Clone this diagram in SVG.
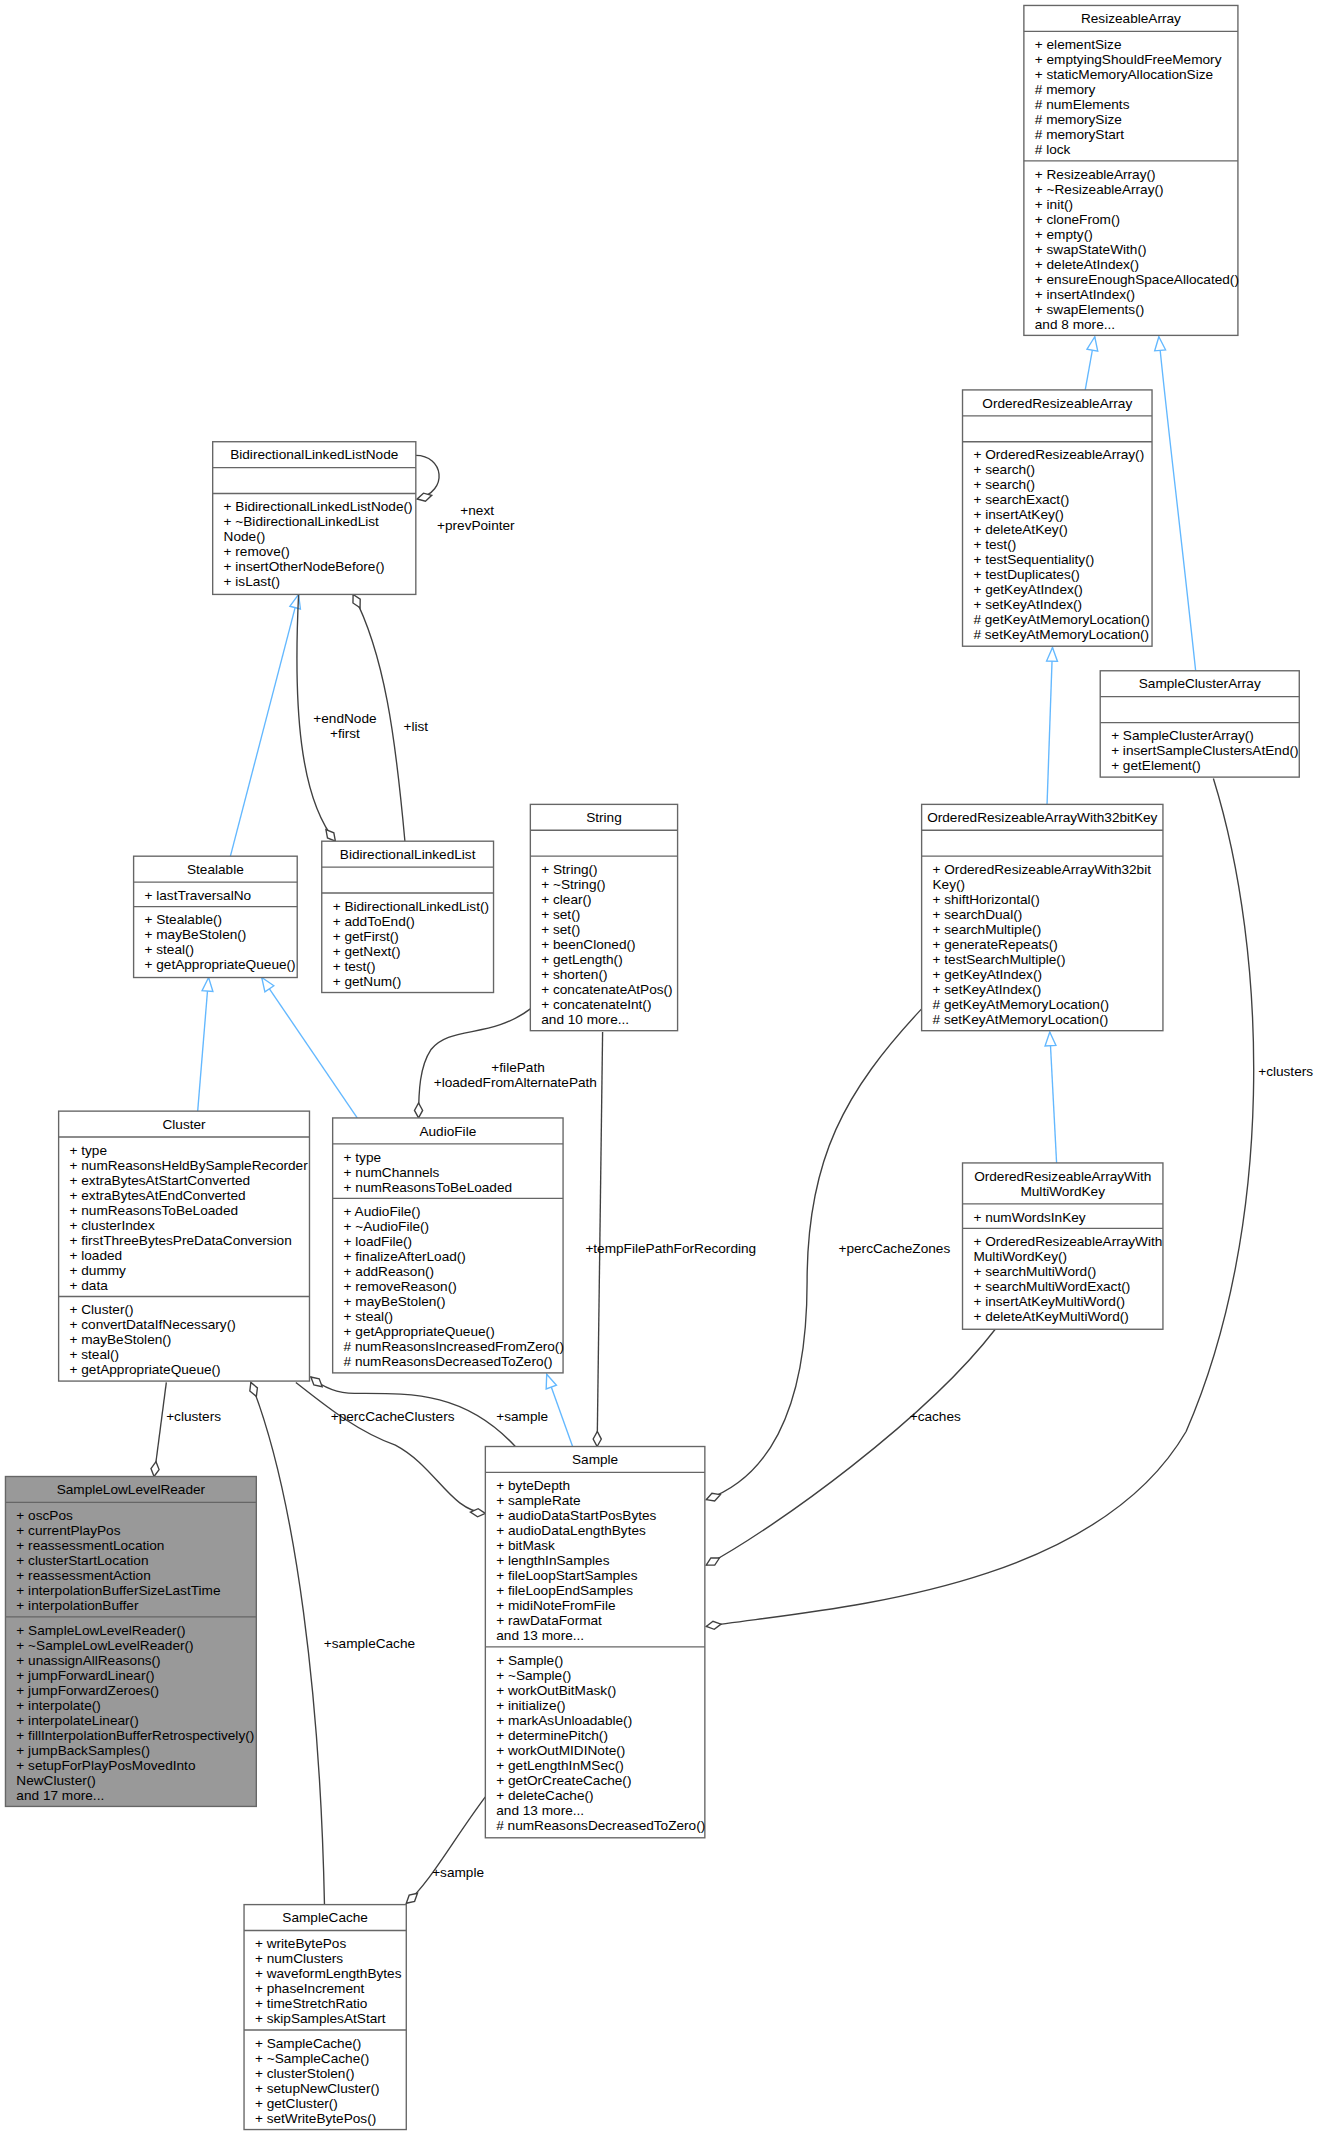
<svg xmlns="http://www.w3.org/2000/svg" width="1317" height="2135" viewBox="0 0 1317 2135">
<style>
text{font-family:"Liberation Sans",Arial,sans-serif;font-size:10px;fill:#000}
.t{text-anchor:middle}
.box{fill:#fff;stroke:#666;stroke-width:1}
.dv{stroke:#666;stroke-width:1}
.inh{fill:none;stroke:#63b8ff;stroke-width:1}
.agg{fill:none;stroke:#404040;stroke-width:1}
</style>
<defs>
<marker id="tri" viewBox="-11 -5 12 10" refX="0" refY="0" markerWidth="12" markerHeight="10" markerUnits="userSpaceOnUse" orient="auto"><path d="M0,0 L-10,-4 L-10,4 z" fill="#fff" stroke="#63b8ff"/></marker>
<marker id="dia" viewBox="-12 -4 13 8" refX="0" refY="0" markerWidth="13" markerHeight="8" markerUnits="userSpaceOnUse" orient="auto"><path d="M0,0 L-5.5,-3 L-11,0 L-5.5,3 z" fill="#fff" stroke="#404040"/></marker>
</defs>
<rect width="1317" height="2135" fill="#fff"/>
<g transform="scale(1.36335)">
<g id="connectors">
<path class="inh" d="M796,286 L803,247" marker-end="url(#tri)"/>
<path class="inh" d="M877,492 C865,380 855,300 850,247" marker-end="url(#tri)"/>
<path class="inh" d="M768,590 L772,475" marker-end="url(#tri)"/>
<path class="inh" d="M775,853 L770,757" marker-end="url(#tri)"/>
<path class="inh" d="M169,628 L219,436" marker-end="url(#tri)"/>
<path class="inh" d="M145,815 L153,717" marker-end="url(#tri)"/>
<path class="inh" d="M262,820 L192,717" marker-end="url(#tri)"/>
<path class="inh" d="M420,1061 L401,1008" marker-end="url(#tri)"/>
<path class="agg" d="M305,334 C325,334 330,360 306,366" marker-end="url(#dia)"/>
<path class="agg" d="M219,436 C215,520 220,585 246,617" marker-end="url(#dia)"/>
<path class="agg" d="M297,617 C290,540 282,480 259,436" marker-end="url(#dia)"/>
<path class="agg" d="M389,740 C360,762 330,752 316,770 C308,782 307,800 307,820" marker-end="url(#dia)"/>
<path class="agg" d="M442,757 L438,1061" marker-end="url(#dia)"/>
<path class="agg" d="M676,740 C620,800 592,850 592,940 C592,1040 560,1085 518,1100" marker-end="url(#dia)"/>
<path class="agg" d="M730,975 C680,1040 570,1120 518,1148" marker-end="url(#dia)"/>
<path class="agg" d="M890,571 C930,700 935,900 870,1050 C800,1170 600,1180 518,1193" marker-end="url(#dia)"/>
<path class="agg" d="M122,1014 L113,1083" marker-end="url(#dia)"/>
<path class="agg" d="M378,1061 C340,1020 300,1022 260,1022 C245,1022 235,1016 228,1010" marker-end="url(#dia)"/>
<path class="agg" d="M217,1014 C240,1032 262,1050 290,1060 C320,1076 330,1108 356,1110" marker-end="url(#dia)"/>
<path class="agg" d="M238,1397 C235,1250 218,1100 184,1014" marker-end="url(#dia)"/>
<path class="agg" d="M356,1318 C332,1350 316,1380 298,1396" marker-end="url(#dia)"/>
<text x="350" y="378" class="t">+next</text>
<text x="349" y="389" class="t">+prevPointer</text>
<text x="253" y="530" class="t">+endNode</text>
<text x="253" y="541" class="t">+first</text>
<text x="305" y="536" class="t">+list</text>
<text x="380" y="786" class="t">+filePath</text>
<text x="378" y="797" class="t">+loadedFromAlternatePath</text>
<text x="492" y="919" class="t">+tempFilePathForRecording</text>
<text x="656" y="919" class="t">+percCacheZones</text>
<text x="686" y="1042" class="t">+caches</text>
<text x="943" y="789" class="t">+clusters</text>
<text x="142" y="1042" class="t">+clusters</text>
<text x="383" y="1042" class="t">+sample</text>
<text x="288" y="1042" class="t">+percCacheClusters</text>
<text x="271" y="1209" class="t">+sampleCache</text>
<text x="336" y="1377" class="t">+sample</text>
</g>
<g id="ResizeableArray">
<rect class="box" x="751" y="4" width="157" height="242"/>
<line class="dv" x1="751" y1="23" x2="908" y2="23"/><line class="dv" x1="751" y1="118" x2="908" y2="118"/>
<text x="829.5" y="17" class="t">ResizeableArray</text>
<text x="759" y="36"><tspan x="759">+ elementSize</tspan><tspan x="759" dy="11">+ emptyingShouldFreeMemory</tspan><tspan x="759" dy="11">+ staticMemoryAllocationSize</tspan><tspan x="759" dy="11"># memory</tspan><tspan x="759" dy="11"># numElements</tspan><tspan x="759" dy="11"># memorySize</tspan><tspan x="759" dy="11"># memoryStart</tspan><tspan x="759" dy="11"># lock</tspan></text>
<text x="759" y="131"><tspan x="759">+ ResizeableArray()</tspan><tspan x="759" dy="11">+ ~ResizeableArray()</tspan><tspan x="759" dy="11">+ init()</tspan><tspan x="759" dy="11">+ cloneFrom()</tspan><tspan x="759" dy="11">+ empty()</tspan><tspan x="759" dy="11">+ swapStateWith()</tspan><tspan x="759" dy="11">+ deleteAtIndex()</tspan><tspan x="759" dy="11">+ ensureEnoughSpaceAllocated()</tspan><tspan x="759" dy="11">+ insertAtIndex()</tspan><tspan x="759" dy="11">+ swapElements()</tspan><tspan x="759" dy="11">and 8 more...</tspan></text>
</g>
<g id="OrderedResizeableArray">
<rect class="box" x="706" y="286" width="139" height="188"/>
<line class="dv" x1="706" y1="305" x2="845" y2="305"/><line class="dv" x1="706" y1="324" x2="845" y2="324"/>
<text x="775.5" y="299" class="t">OrderedResizeableArray</text>
<text x="714" y="337"><tspan x="714">+ OrderedResizeableArray()</tspan><tspan x="714" dy="11">+ search()</tspan><tspan x="714" dy="11">+ search()</tspan><tspan x="714" dy="11">+ searchExact()</tspan><tspan x="714" dy="11">+ insertAtKey()</tspan><tspan x="714" dy="11">+ deleteAtKey()</tspan><tspan x="714" dy="11">+ test()</tspan><tspan x="714" dy="11">+ testSequentiality()</tspan><tspan x="714" dy="11">+ testDuplicates()</tspan><tspan x="714" dy="11">+ getKeyAtIndex()</tspan><tspan x="714" dy="11">+ setKeyAtIndex()</tspan><tspan x="714" dy="11"># getKeyAtMemoryLocation()</tspan><tspan x="714" dy="11"># setKeyAtMemoryLocation()</tspan></text>
</g>
<g id="SampleClusterArray">
<rect class="box" x="807" y="492" width="146" height="78"/>
<line class="dv" x1="807" y1="511" x2="953" y2="511"/><line class="dv" x1="807" y1="530" x2="953" y2="530"/>
<text x="880" y="505" class="t">SampleClusterArray</text>
<text x="815" y="543"><tspan x="815">+ SampleClusterArray()</tspan><tspan x="815" dy="11">+ insertSampleClustersAtEnd()</tspan><tspan x="815" dy="11">+ getElement()</tspan></text>
</g>
<g id="OrderedResizeableArrayWith32bitKey">
<rect class="box" x="676" y="590" width="177" height="166"/>
<line class="dv" x1="676" y1="609" x2="853" y2="609"/><line class="dv" x1="676" y1="628" x2="853" y2="628"/>
<text x="764.5" y="603" class="t">OrderedResizeableArrayWith32bitKey</text>
<text x="684" y="641"><tspan x="684">+ OrderedResizeableArrayWith32bit</tspan><tspan x="684" dy="11">Key()</tspan><tspan x="684" dy="11">+ shiftHorizontal()</tspan><tspan x="684" dy="11">+ searchDual()</tspan><tspan x="684" dy="11">+ searchMultiple()</tspan><tspan x="684" dy="11">+ generateRepeats()</tspan><tspan x="684" dy="11">+ testSearchMultiple()</tspan><tspan x="684" dy="11">+ getKeyAtIndex()</tspan><tspan x="684" dy="11">+ setKeyAtIndex()</tspan><tspan x="684" dy="11"># getKeyAtMemoryLocation()</tspan><tspan x="684" dy="11"># setKeyAtMemoryLocation()</tspan></text>
</g>
<g id="OrderedResizeableArrayWithMultiWordKey">
<rect class="box" x="706" y="853" width="147" height="122"/>
<line class="dv" x1="706" y1="883" x2="853" y2="883"/><line class="dv" x1="706" y1="901" x2="853" y2="901"/>
<text x="779.5" y="866" class="t">OrderedResizeableArrayWith</text>
<text x="779.5" y="877" class="t">MultiWordKey</text>
<text x="714" y="896">+ numWordsInKey</text>
<text x="714" y="914"><tspan x="714">+ OrderedResizeableArrayWith</tspan><tspan x="714" dy="11">MultiWordKey()</tspan><tspan x="714" dy="11">+ searchMultiWord()</tspan><tspan x="714" dy="11">+ searchMultiWordExact()</tspan><tspan x="714" dy="11">+ insertAtKeyMultiWord()</tspan><tspan x="714" dy="11">+ deleteAtKeyMultiWord()</tspan></text>
</g>
<g id="BidirectionalLinkedListNode">
<rect class="box" x="156" y="324" width="149" height="112"/>
<line class="dv" x1="156" y1="343" x2="305" y2="343"/><line class="dv" x1="156" y1="362" x2="305" y2="362"/>
<text x="230.5" y="337" class="t">BidirectionalLinkedListNode</text>
<text x="164" y="375"><tspan x="164">+ BidirectionalLinkedListNode()</tspan><tspan x="164" dy="11">+ ~BidirectionalLinkedList</tspan><tspan x="164" dy="11">Node()</tspan><tspan x="164" dy="11">+ remove()</tspan><tspan x="164" dy="11">+ insertOtherNodeBefore()</tspan><tspan x="164" dy="11">+ isLast()</tspan></text>
</g>
<g id="Stealable">
<rect class="box" x="98" y="628" width="120" height="89"/>
<line class="dv" x1="98" y1="647" x2="218" y2="647"/><line class="dv" x1="98" y1="665" x2="218" y2="665"/>
<text x="158" y="641" class="t">Stealable</text>
<text x="106" y="660">+ lastTraversalNo</text>
<text x="106" y="678"><tspan x="106">+ Stealable()</tspan><tspan x="106" dy="11">+ mayBeStolen()</tspan><tspan x="106" dy="11">+ steal()</tspan><tspan x="106" dy="11">+ getAppropriateQueue()</tspan></text>
</g>
<g id="BidirectionalLinkedList">
<rect class="box" x="236" y="617" width="126" height="111"/>
<line class="dv" x1="236" y1="636" x2="362" y2="636"/><line class="dv" x1="236" y1="655" x2="362" y2="655"/>
<text x="299" y="630" class="t">BidirectionalLinkedList</text>
<text x="244" y="668"><tspan x="244">+ BidirectionalLinkedList()</tspan><tspan x="244" dy="11">+ addToEnd()</tspan><tspan x="244" dy="11">+ getFirst()</tspan><tspan x="244" dy="11">+ getNext()</tspan><tspan x="244" dy="11">+ test()</tspan><tspan x="244" dy="11">+ getNum()</tspan></text>
</g>
<g id="String">
<rect class="box" x="389" y="590" width="108" height="166"/>
<line class="dv" x1="389" y1="609" x2="497" y2="609"/><line class="dv" x1="389" y1="628" x2="497" y2="628"/>
<text x="443" y="603" class="t">String</text>
<text x="397" y="641"><tspan x="397">+ String()</tspan><tspan x="397" dy="11">+ ~String()</tspan><tspan x="397" dy="11">+ clear()</tspan><tspan x="397" dy="11">+ set()</tspan><tspan x="397" dy="11">+ set()</tspan><tspan x="397" dy="11">+ beenCloned()</tspan><tspan x="397" dy="11">+ getLength()</tspan><tspan x="397" dy="11">+ shorten()</tspan><tspan x="397" dy="11">+ concatenateAtPos()</tspan><tspan x="397" dy="11">+ concatenateInt()</tspan><tspan x="397" dy="11">and 10 more...</tspan></text>
</g>
<g id="Cluster">
<rect class="box" x="43" y="815" width="184" height="198"/>
<line class="dv" x1="43" y1="834" x2="227" y2="834"/><line class="dv" x1="43" y1="951" x2="227" y2="951"/>
<text x="135" y="828" class="t">Cluster</text>
<text x="51" y="847"><tspan x="51">+ type</tspan><tspan x="51" dy="11">+ numReasonsHeldBySampleRecorder</tspan><tspan x="51" dy="11">+ extraBytesAtStartConverted</tspan><tspan x="51" dy="11">+ extraBytesAtEndConverted</tspan><tspan x="51" dy="11">+ numReasonsToBeLoaded</tspan><tspan x="51" dy="11">+ clusterIndex</tspan><tspan x="51" dy="11">+ firstThreeBytesPreDataConversion</tspan><tspan x="51" dy="11">+ loaded</tspan><tspan x="51" dy="11">+ dummy</tspan><tspan x="51" dy="11">+ data</tspan></text>
<text x="51" y="964"><tspan x="51">+ Cluster()</tspan><tspan x="51" dy="11">+ convertDataIfNecessary()</tspan><tspan x="51" dy="11">+ mayBeStolen()</tspan><tspan x="51" dy="11">+ steal()</tspan><tspan x="51" dy="11">+ getAppropriateQueue()</tspan></text>
</g>
<g id="AudioFile">
<rect class="box" x="244" y="820" width="169" height="187"/>
<line class="dv" x1="244" y1="839" x2="413" y2="839"/><line class="dv" x1="244" y1="879" x2="413" y2="879"/>
<text x="328.5" y="833" class="t">AudioFile</text>
<text x="252" y="852"><tspan x="252">+ type</tspan><tspan x="252" dy="11">+ numChannels</tspan><tspan x="252" dy="11">+ numReasonsToBeLoaded</tspan></text>
<text x="252" y="892"><tspan x="252">+ AudioFile()</tspan><tspan x="252" dy="11">+ ~AudioFile()</tspan><tspan x="252" dy="11">+ loadFile()</tspan><tspan x="252" dy="11">+ finalizeAfterLoad()</tspan><tspan x="252" dy="11">+ addReason()</tspan><tspan x="252" dy="11">+ removeReason()</tspan><tspan x="252" dy="11">+ mayBeStolen()</tspan><tspan x="252" dy="11">+ steal()</tspan><tspan x="252" dy="11">+ getAppropriateQueue()</tspan><tspan x="252" dy="11"># numReasonsIncreasedFromZero()</tspan><tspan x="252" dy="11"># numReasonsDecreasedToZero()</tspan></text>
</g>
<g id="SampleLowLevelReader">
<rect x="4" y="1083" width="184" height="242" fill="#999" stroke="#666"/>
<line class="dv" x1="4" y1="1102" x2="188" y2="1102"/><line class="dv" x1="4" y1="1186" x2="188" y2="1186"/>
<text x="96" y="1096" class="t">SampleLowLevelReader</text>
<text x="12" y="1115"><tspan x="12">+ oscPos</tspan><tspan x="12" dy="11">+ currentPlayPos</tspan><tspan x="12" dy="11">+ reassessmentLocation</tspan><tspan x="12" dy="11">+ clusterStartLocation</tspan><tspan x="12" dy="11">+ reassessmentAction</tspan><tspan x="12" dy="11">+ interpolationBufferSizeLastTime</tspan><tspan x="12" dy="11">+ interpolationBuffer</tspan></text>
<text x="12" y="1199"><tspan x="12">+ SampleLowLevelReader()</tspan><tspan x="12" dy="11">+ ~SampleLowLevelReader()</tspan><tspan x="12" dy="11">+ unassignAllReasons()</tspan><tspan x="12" dy="11">+ jumpForwardLinear()</tspan><tspan x="12" dy="11">+ jumpForwardZeroes()</tspan><tspan x="12" dy="11">+ interpolate()</tspan><tspan x="12" dy="11">+ interpolateLinear()</tspan><tspan x="12" dy="11">+ fillInterpolationBufferRetrospectively()</tspan><tspan x="12" dy="11">+ jumpBackSamples()</tspan><tspan x="12" dy="11">+ setupForPlayPosMovedInto</tspan><tspan x="12" dy="11">NewCluster()</tspan><tspan x="12" dy="11">and 17 more...</tspan></text>
</g>
<g id="Sample">
<rect class="box" x="356" y="1061" width="161" height="287"/>
<line class="dv" x1="356" y1="1080" x2="517" y2="1080"/><line class="dv" x1="356" y1="1208" x2="517" y2="1208"/>
<text x="436.5" y="1074" class="t">Sample</text>
<text x="364" y="1093"><tspan x="364">+ byteDepth</tspan><tspan x="364" dy="11">+ sampleRate</tspan><tspan x="364" dy="11">+ audioDataStartPosBytes</tspan><tspan x="364" dy="11">+ audioDataLengthBytes</tspan><tspan x="364" dy="11">+ bitMask</tspan><tspan x="364" dy="11">+ lengthInSamples</tspan><tspan x="364" dy="11">+ fileLoopStartSamples</tspan><tspan x="364" dy="11">+ fileLoopEndSamples</tspan><tspan x="364" dy="11">+ midiNoteFromFile</tspan><tspan x="364" dy="11">+ rawDataFormat</tspan><tspan x="364" dy="11">and 13 more...</tspan></text>
<text x="364" y="1221"><tspan x="364">+ Sample()</tspan><tspan x="364" dy="11">+ ~Sample()</tspan><tspan x="364" dy="11">+ workOutBitMask()</tspan><tspan x="364" dy="11">+ initialize()</tspan><tspan x="364" dy="11">+ markAsUnloadable()</tspan><tspan x="364" dy="11">+ determinePitch()</tspan><tspan x="364" dy="11">+ workOutMIDINote()</tspan><tspan x="364" dy="11">+ getLengthInMSec()</tspan><tspan x="364" dy="11">+ getOrCreateCache()</tspan><tspan x="364" dy="11">+ deleteCache()</tspan><tspan x="364" dy="11">and 13 more...</tspan><tspan x="364" dy="11"># numReasonsDecreasedToZero()</tspan></text>
</g>
<g id="SampleCache">
<rect class="box" x="179" y="1397" width="119" height="165"/>
<line class="dv" x1="179" y1="1416" x2="298" y2="1416"/><line class="dv" x1="179" y1="1489" x2="298" y2="1489"/>
<text x="238.5" y="1410" class="t">SampleCache</text>
<text x="187" y="1429"><tspan x="187">+ writeBytePos</tspan><tspan x="187" dy="11">+ numClusters</tspan><tspan x="187" dy="11">+ waveformLengthBytes</tspan><tspan x="187" dy="11">+ phaseIncrement</tspan><tspan x="187" dy="11">+ timeStretchRatio</tspan><tspan x="187" dy="11">+ skipSamplesAtStart</tspan></text>
<text x="187" y="1502"><tspan x="187">+ SampleCache()</tspan><tspan x="187" dy="11">+ ~SampleCache()</tspan><tspan x="187" dy="11">+ clusterStolen()</tspan><tspan x="187" dy="11">+ setupNewCluster()</tspan><tspan x="187" dy="11">+ getCluster()</tspan><tspan x="187" dy="11">+ setWriteBytePos()</tspan></text>
</g>
</g>
</svg>
